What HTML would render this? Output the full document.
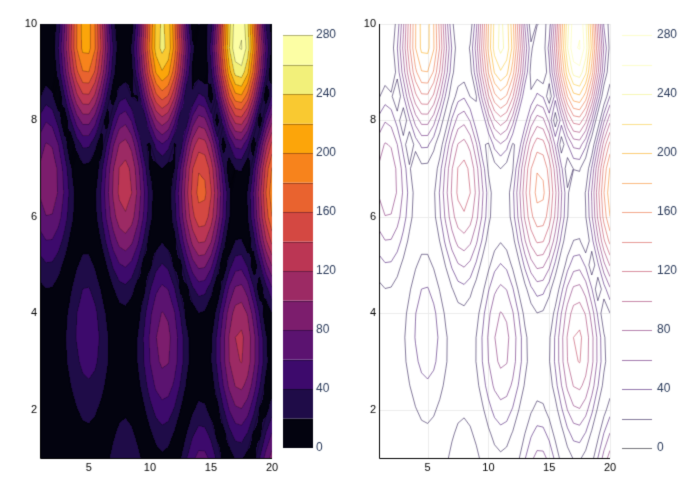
<!DOCTYPE html>
<html><head><meta charset="utf-8"><style>
body{margin:0;background:#fff;width:700px;height:500px;overflow:hidden;font-family:"Liberation Sans",sans-serif}
canvas{position:absolute;left:0;top:0}
</style></head><body>
<canvas id="c" width="700" height="500"></canvas>
<script>
// data grid: x = 1:0.5:20, y = 1:0.5:10, z = (3x + y^2)*|sin x + cos y|
const xs = []; for (let i = 0; i <= 38; i++) xs.push(1 + i * 0.5);
const ys = []; for (let j = 0; j <= 18; j++) ys.push(1 + j * 0.5);
const zGrid = ys.map(y => xs.map(x => (3 * x + y * y) * Math.abs(Math.sin(x) + Math.cos(y))));
const levels = [0,20,40,60,80,100,120,140,160,180,200,220,240,260,280];
const xTicks = [5,10,15,20];
const yTicks = [2,4,6,8,10];
const cbTicks = [0,40,80,120,160,200,240,280];

const bandColors = ['#03030f','#1f0c48','#3d0a6c','#5b1370','#7c1d6d','#9c2a64','#bb3654','#d44842','#e9632f','#f7831c','#fca50a','#f9c931','#f2f07a','#fcfea4'];
const cv = document.getElementById('c'), ctx = cv.getContext('2d');
const panels = [{x0:40,x1:272,filled:true,cb:283},{x0:379,x1:610,filled:false,cb:624}];
const yTop = 24, yBot = 458;
function sx(p, x){ return p.x0 + (x - 1) / 19 * (p.x1 - p.x0); }
function sy(y){ return yBot - (y - 1) / 9 * (yBot - yTop); }
function zAt(x, y){
  let fi = (x - xs[0]) / 0.5, fj = (y - ys[0]) / 0.5;
  let i = Math.min(xs.length - 2, Math.max(0, Math.floor(fi))), j = Math.min(ys.length - 2, Math.max(0, Math.floor(fj)));
  let tx = fi - i, ty = fj - j;
  return zGrid[j][i]*(1-tx)*(1-ty) + zGrid[j][i+1]*tx*(1-ty) + zGrid[j+1][i]*(1-tx)*ty + zGrid[j+1][i+1]*tx*ty;
}
function hex(c){ return [parseInt(c.slice(1,3),16),parseInt(c.slice(3,5),16),parseInt(c.slice(5,7),16)]; }
const rgb = bandColors.map(hex);
function lineColor(L, a){ const c = rgb[Math.min(13, Math.round(L/20))]; return `rgba(${c[0]},${c[1]},${c[2]},${a})`; }

function contourSegs(L){
  const segs = [];
  for (let j = 0; j < ys.length - 1; j++) for (let i = 0; i < xs.length - 1; i++){
    const c = [[xs[i],ys[j],zGrid[j][i]],[xs[i+1],ys[j],zGrid[j][i+1]],[xs[i+1],ys[j+1],zGrid[j+1][i+1]],[xs[i],ys[j+1],zGrid[j+1][i]]];
    const pts = [];
    for (let k = 0; k < 4; k++){
      const a = c[k], b = c[(k+1)%4];
      if ((a[2] < L) !== (b[2] < L)){
        const t = (L - a[2]) / (b[2] - a[2]);
        pts.push([a[0] + t*(b[0]-a[0]), a[1] + t*(b[1]-a[1])]);
      }
    }
    if (pts.length === 2) segs.push([pts[0], pts[1]]);
    else if (pts.length === 4){ segs.push([pts[0],pts[1]]); segs.push([pts[2],pts[3]]); }
  }
  return segs;
}

// grid lines on right panel
const pR = panels[1];
ctx.strokeStyle = '#ececec'; ctx.lineWidth = 1;
xTicks.forEach(t => { const X = Math.round(sx(pR,t))+0.5; ctx.beginPath(); ctx.moveTo(X,yTop); ctx.lineTo(X,yBot); ctx.stroke(); });
yTicks.forEach(t => { const Y = Math.round(sy(t))+0.5; ctx.beginPath(); ctx.moveTo(pR.x0,Y); ctx.lineTo(pR.x1,Y); ctx.stroke(); });

// filled panel
const pL = panels[0];
const img = ctx.getImageData(0,0,700,500);
for (let Y = yTop; Y < yBot; Y++) for (let X = pL.x0; X < pL.x1; X++){
  const x = 1 + (X + 0.5 - pL.x0) / (pL.x1 - pL.x0) * 19;
  const y = 1 + (yBot - Y - 0.5) / (yBot - yTop) * 9;
  const z = zAt(x, y);
  const b = Math.max(0, Math.min(13, Math.floor(z / 20)));
  const o = (Y*700 + X)*4;
  img.data[o] = rgb[b][0]; img.data[o+1] = rgb[b][1]; img.data[o+2] = rgb[b][2]; img.data[o+3] = 255;
}
ctx.putImageData(img,0,0);

// contour lines
levels.forEach(L => {
  const segs = contourSegs(L);
  panels.forEach(p => {
    ctx.save(); ctx.beginPath(); ctx.rect(p.x0, yTop, p.x1-p.x0, yBot-yTop); ctx.clip();
    ctx.strokeStyle = p.filled ? 'rgba(0,0,0,0.25)' : lineColor(L, 0.55);
    ctx.lineWidth = 1;
    ctx.beginPath();
    segs.forEach(s => { ctx.moveTo(sx(p,s[0][0]), sy(s[0][1])); ctx.lineTo(sx(p,s[1][0]), sy(s[1][1])); });
    ctx.stroke(); ctx.restore();
  });
});

// axes, ticks
ctx.font = '11px "Liberation Sans", sans-serif';
panels.forEach(p => {
  ctx.strokeStyle = '#000'; ctx.lineWidth = 1;
  ctx.beginPath(); ctx.moveTo(p.x0+0.5, yTop); ctx.lineTo(p.x0+0.5, yBot+0.5); ctx.lineTo(p.x1, yBot+0.5); ctx.stroke();
  ctx.fillStyle = '#000';
  ctx.textAlign = 'center'; ctx.textBaseline = 'top';
  xTicks.forEach(t => ctx.fillText(String(t), sx(p,t), yBot + 4));
  ctx.textAlign = 'right'; ctx.textBaseline = 'middle';
  yTicks.forEach(t => ctx.fillText(String(t), p.x0 - 3, sy(t)));
  // colorbar
  const cbY = L => 448 - L / 280 * 413;
  if (p.filled){
    for (let b = 0; b < 14; b++){ ctx.fillStyle = bandColors[b]; ctx.fillRect(p.cb, cbY((b+1)*20), 30, cbY(b*20) - cbY((b+1)*20)); }
    levels.forEach(L => { if (L > 0){ ctx.strokeStyle = 'rgba(0,0,0,0.3)'; ctx.beginPath(); ctx.moveTo(p.cb, Math.round(cbY(L))+0.5); ctx.lineTo(p.cb+30, Math.round(cbY(L))+0.5); ctx.stroke(); } });
  } else {
    levels.forEach(L => { ctx.strokeStyle = lineColor(L, 0.55); ctx.beginPath(); ctx.moveTo(p.cb-2, Math.round(cbY(L))+0.5); ctx.lineTo(p.cb+28, Math.round(cbY(L))+0.5); ctx.stroke(); });
  }
  ctx.fillStyle = '#2a3a5a'; ctx.font = '12px "Liberation Sans", sans-serif';
  ctx.textAlign = 'left';
  cbTicks.forEach(t => ctx.fillText(String(t), p.cb + 33, cbY(t)));
  ctx.font = '11px "Liberation Sans", sans-serif';
});
</script>
</body></html>
